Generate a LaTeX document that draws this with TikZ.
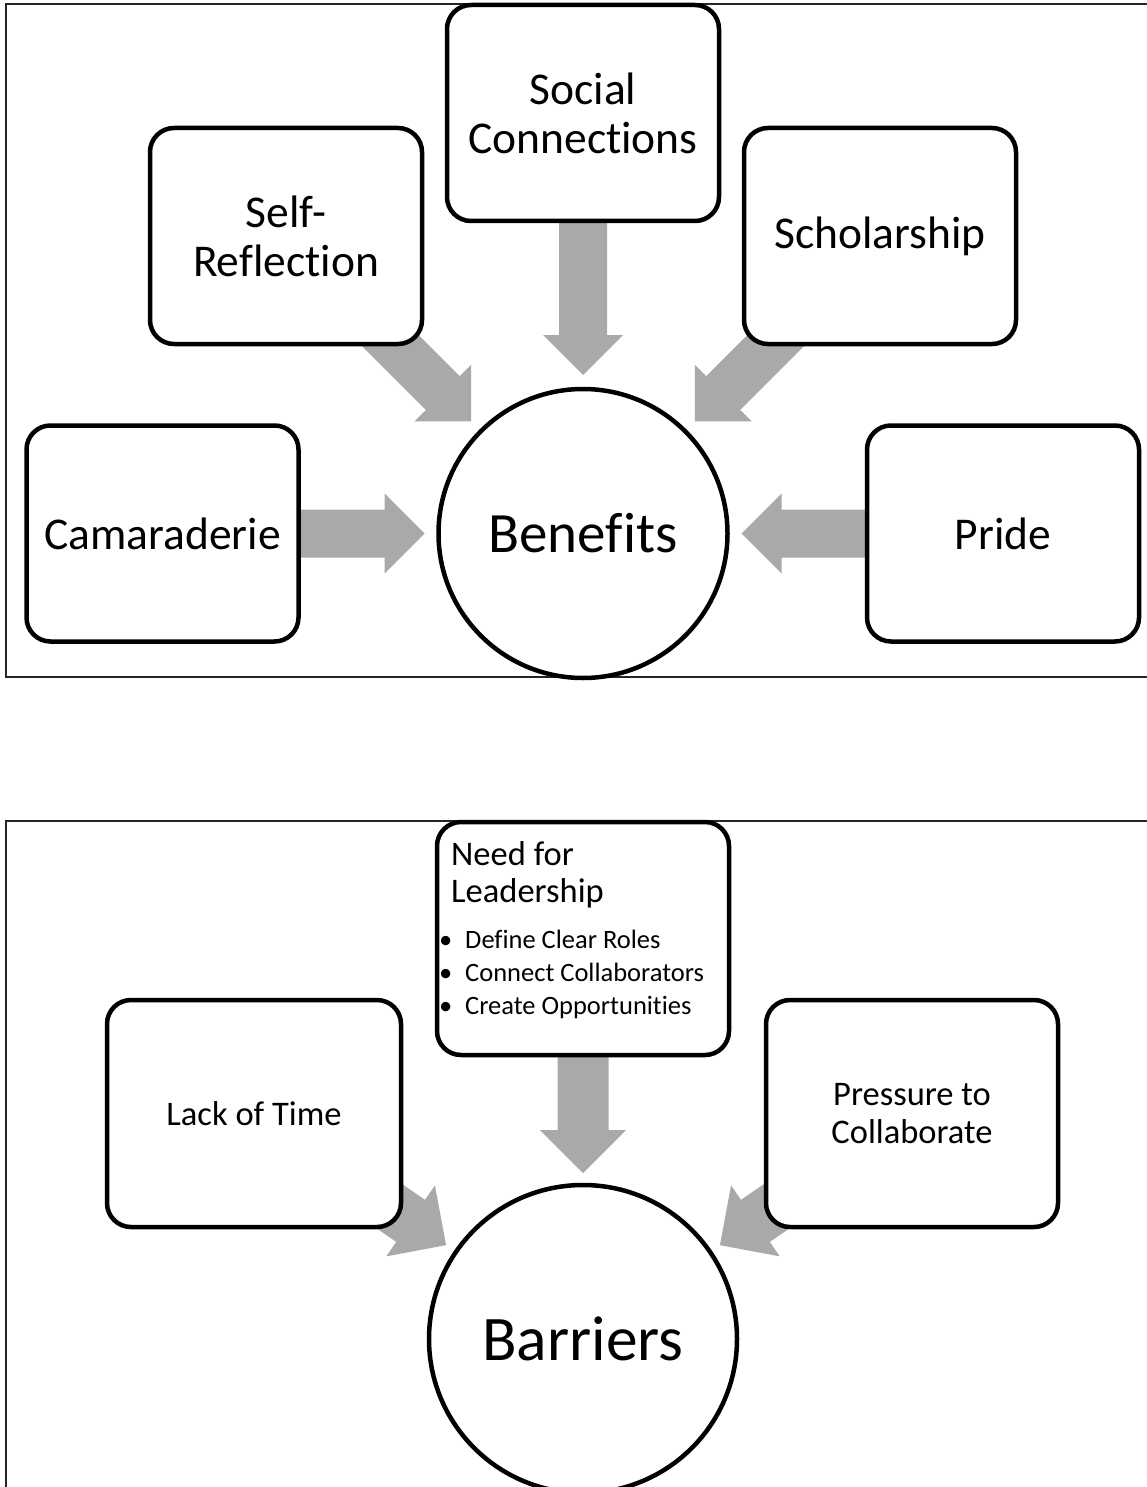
\documentclass[tikz,border=0pt]{standalone}
\usepackage{fontspec}
\setmainfont{Carlito}[RawFeature={-liga;-clig;-dlig}]
\usetikzlibrary{calc,backgrounds}
\definecolor{arrowgray}{RGB}{169,169,169}
\tikzset{
  box/.style={draw, line width=4.5pt, rounded corners=24pt, fill=white, inner sep=0pt, align=center},
  hub/.style={draw, circle, line width=4.5pt, fill=white, inner sep=0pt},
  frameline/.style={draw=black!85, line width=1.6pt},
  fatfill/.style={fill=arrowgray},
  topfont/.style={font=\fontsize{45.5}{49}\selectfont},
  lowfont/.style={font=\fontsize{34.5}{38}\selectfont},
  bulletfont/.style={font=\fontsize{26.5}{32}\selectfont},
}
% #1 from node, #2 to node, #3 tip distance, #4 head base distance, #5 half shaft, #6 half head
\newcommand\fatarrow[6]{%
  \path ($(#2.center)!#3!(#1.center)$) coordinate (aT)
        ($(#2.center)!#4!(#1.center)$) coordinate (aM);
  \fill[fatfill] ($(#1.center)!#5!90:(#2.center)$)
    -- ($(aM)!#5!90:(#2.center)$)
    -- ($(aM)!#6!90:(#2.center)$)
    -- (aT)
    -- ($(aM)!#6!-90:(#2.center)$)
    -- ($(aM)!#5!-90:(#2.center)$)
    -- ($(#1.center)!#5!-90:(#2.center)$) -- cycle;
}
\begin{document}
\begin{tikzpicture}[x=1pt,y=-1pt]
\useasboundingbox (0,0) rectangle (1147,1487);

% ---------- Benefits ----------
\node[hub, minimum size=289pt, font=\fontsize{57}{66}\selectfont] (ben) at (583,533.5) {Benefits};
\node[box, topfont, minimum width=272pt, minimum height=216pt] (soc) at (583,113) {Social\\Connections};
\node[box, topfont, minimum width=272pt, minimum height=216pt] (self) at (286,236) {Self-\\Reflection};
\node[box, topfont, minimum width=272pt, minimum height=216pt] (schol) at (880,236) {Scholarship};
\node[box, topfont, minimum width=272pt, minimum height=216pt] (cam) at (162.5,533.5) {Camaraderie};
\node[box, topfont, minimum width=272pt, minimum height=216pt] (pride) at (1003,533.5) {Pride};

% ---------- Barriers ----------
\node[hub, minimum size=308pt, font=\fontsize{63.5}{72}\selectfont] (bar) at (583,1339) {Barriers};
\node[box, lowfont, minimum width=294pt, minimum height=227pt] (lack) at (254,1113.5) {Lack of Time};
\node[box, lowfont, minimum width=292pt, minimum height=227pt] (press) at (912,1113.5) {Pressure to\\Collaborate};
\node[box, minimum width=292pt, minimum height=233pt] (need) at (583,938.5) {};
\node[lowfont, anchor=base west, inner sep=0pt] (needa) at (451,865) {Need for};
\node[lowfont, anchor=base west, inner sep=0pt] (needb) at (451,902) {Leadership};
\node[bulletfont, anchor=base west, inner sep=0pt] (bula) at (439,948) {\makebox[26pt][l]{\textbullet}Define Clear Roles};
\node[bulletfont, anchor=base west, inner sep=0pt] (bulb) at (439,981) {\makebox[26pt][l]{\textbullet}Connect Collaborators};
\node[bulletfont, anchor=base west, inner sep=0pt] (bulc) at (439,1014) {\makebox[26pt][l]{\textbullet}Create Opportunities};

\begin{pgfonlayer}{background}
  % frames
  \draw[frameline] (6,4) rectangle (1170,677);
  \draw[frameline] (1170,821) -- (6,821) -- (6,1500);
  % benefits arrows
  \fatarrow{soc}{ben}{158.5pt}{198.5pt}{24pt}{40pt}
  \fatarrow{self}{ben}{158.5pt}{198.5pt}{24pt}{40pt}
  \fatarrow{schol}{ben}{158.5pt}{198.5pt}{24pt}{40pt}
  \fatarrow{cam}{ben}{158.5pt}{198.5pt}{24pt}{40pt}
  \fatarrow{pride}{ben}{158.5pt}{198.5pt}{24pt}{40pt}
  % barriers arrows
  \fatarrow{need}{bar}{166pt}{209pt}{25.5pt}{43pt}
  \fatarrow{lack}{bar}{166pt}{209pt}{25.5pt}{43pt}
  \fatarrow{press}{bar}{166pt}{209pt}{25.5pt}{43pt}
\end{pgfonlayer}
\end{tikzpicture}
\end{document}
